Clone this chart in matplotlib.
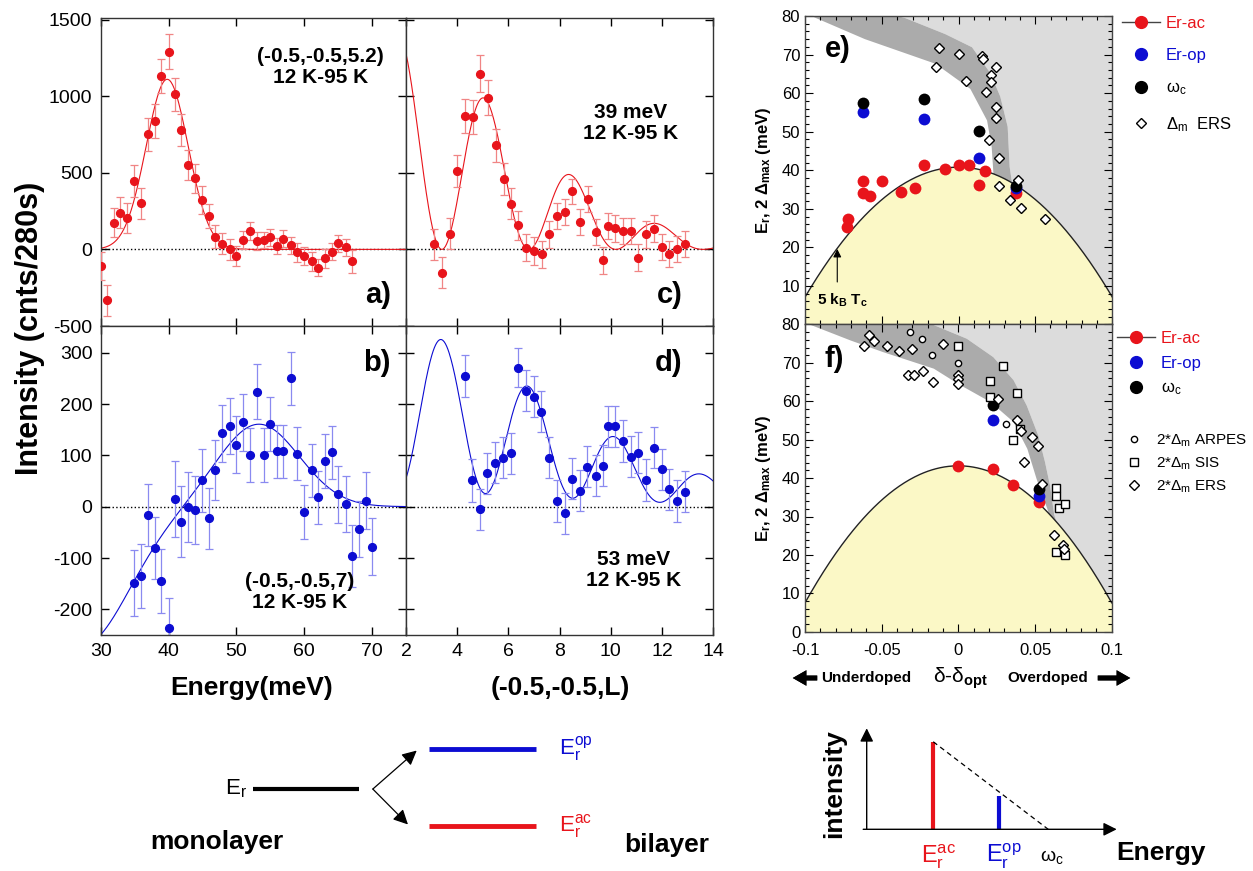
import numpy as np
import matplotlib
matplotlib.use('Agg')
import matplotlib.pyplot as plt
from matplotlib.lines import Line2D
from matplotlib.ticker import MultipleLocator, FixedLocator

plt.rcParams['font.family'] = ['Liberation Sans', 'DejaVu Sans']
plt.rcParams['mathtext.fontset'] = 'custom'
plt.rcParams['mathtext.rm'] = 'Liberation Sans'
plt.rcParams['mathtext.it'] = 'Liberation Sans:italic'
plt.rcParams['mathtext.bf'] = 'Liberation Sans:bold'
plt.rcParams['axes.unicode_minus'] = False

# ---- a) energy scan at (-0.5,-0.5,5.2), acoustic mode
energy_a = [30.0, 31.0, 31.9, 32.9, 33.9, 34.9, 35.9, 36.9, 38.0, 38.9, 40.0, 40.9, 41.9, 42.9,
            43.9, 45.0, 46.0, 46.9, 47.9, 49.0, 50.0, 51.0, 52.0, 53.0, 54.0, 55.0, 56.0, 56.9,
            58.0, 59.0, 60.0, 61.1, 62.0, 63.1, 64.1, 65.0, 66.1, 67.1]
inten_a = [-109, -333, 174, 239, 204, 446, 300, 750, 837, 1133, 1291, 1011, 778, 550,
           463, 324, 217, 83, 37, 0, -43, 61, 120, 54, 61, 78, 22, 70,
           28, -20, -43, -78, -120, -59, -15, 41, 13, -76]
err_a = [90, 100, 95, 100, 100, 105, 100, 105, 110, 110, 115, 110, 105, 100,
         95, 90, 80, 75, 70, 70, 65, 60, 60, 60, 55, 55, 55, 55,
         55, 60, 60, 60, 55, 60, 55, 55, 55, 75]

# ---- b) energy scan at (-0.5,-0.5,7), optical mode
energy_b = [34.9, 35.9, 36.9, 38.0, 38.9, 40.0, 40.9, 41.9, 42.9, 43.9, 45.0, 46.0, 46.9, 47.9,
            49.0, 50.0, 51.0, 52.0, 53.0, 54.0, 55.0, 56.0, 56.9, 58.0, 59.0, 60.0, 61.1, 62.0,
            63.1, 64.1, 65.0, 66.1, 67.1, 68.0, 69.1, 70.0]
inten_b = [-149, -135, -16, -81, -145, -237, 15, -29, -1, -6, 51, -23, 71, 143,
           157, 121, 164, 101, 224, 101, 161, 108, 108, 250, 103, -10, 71, 18,
           89, 106, 24, 5, -96, -44, 12, -78]
err_b = [64, 62, 60, 60, 62, 60, 74, 70, 68, 66, 62, 60, 58, 56,
         55, 55, 55, 52, 53, 52, 52, 52, 52, 51, 52, 52, 52, 52,
         52, 52, 55, 55, 60, 55, 55, 55]

# ---- c) L scan at 39 meV
L_c = [3.10, 3.39, 3.71, 4.01, 4.30, 4.62, 4.90, 5.21, 5.51, 5.81, 6.11, 6.39, 6.68, 6.99,
       7.30, 7.60, 7.90, 8.20, 8.49, 8.80, 9.10, 9.40, 9.70, 9.88, 10.18, 10.48, 10.77, 11.07,
       11.39, 11.69, 11.98, 12.28, 12.58, 12.88]
inten_c = [33, -152, 102, 511, 870, 863, 1146, 989, 678, 461, 298, 157, 11, -11,
           -33, 98, 215, 246, 380, 178, 330, 113, -72, 152, 137, 120, 120, -54,
           98, 135, 17, -33, 0, 37]
err_c = [100, 102, 100, 105, 110, 110, 122, 115, 110, 105, 100, 95, 90, 90,
         88, 88, 85, 85, 82, 85, 85, 85, 88, 87, 87, 87, 87, 88,
         87, 87, 85, 85, 85, 85]

# ---- d) L scan at 53 meV
L_d = [4.31, 4.59, 4.88, 5.18, 5.48, 5.79, 6.09, 6.39, 6.69, 6.99, 7.29, 7.60, 7.90, 8.19,
       8.49, 8.79, 9.08, 9.40, 9.70, 9.88, 10.18, 10.48, 10.77, 11.07, 11.39, 11.69, 11.98, 12.28,
       12.58, 12.88]
inten_d = [254, 51, -5, 65, 86, 95, 104, 271, 226, 214, 185, 95, 11, -13,
           54, 31, 78, 60, 80, 157, 157, 128, 97, 105, 52, 115, 73, 34,
           11, 29]
err_d = [41, 41, 40, 40, 40, 40, 40, 38, 40, 40, 40, 40, 40, 40,
         40, 40, 40, 40, 40, 40, 40, 40, 40, 40, 40, 40, 40, 40,
         40, 40]

# fit parameters
fit_a = dict(center=39.8, amp=1110, sigma=3.1)
fit_b = dict(center=53.3, amp=161, sigma=6.0, neg_center=27.0, neg_amp=273, neg_width=7.1)
fit_c = dict(amp=1469, decay=0.0155, period=3.4)
fit_d = dict(amp=363, decay=0.0095, period=3.4, floor=0.09)

# ---- e) doping dependence, present data
dop_ac_e = [-0.0726, -0.0722, -0.0622, -0.0622, -0.0578, -0.0496, -0.0376, -0.0283, -0.0226,
            -0.0087, 0.0002, 0.0067, 0.0130, 0.0170, 0.0376]
Er_ac_e = [25.2, 27.4, 37.2, 34.2, 33.3, 37.2, 34.3, 35.3, 41.4, 40.3, 41.4, 41.4, 36.3, 39.8, 34.2]
dop_op_e = [-0.0622, -0.0226, 0.0130, 0.0376]
Er_op_e = [55.2, 53.3, 43.3, 35.3]
dop_wc_e = [-0.0620, -0.0226, 0.0130, 0.0376]
wc_e = [57.4, 58.5, 50.2, 36.0]
dop_ers_e = [-0.0128, -0.0148, 0.0002, 0.0050, 0.0152, 0.0157, 0.0243, 0.0211, 0.0211, 0.0180,
             0.0243, 0.0243, 0.0196, 0.0261, 0.0265, 0.0387, 0.0333, 0.0407, 0.0559]
ers_e = [71.6, 66.9, 70.2, 63.2, 69.5, 68.8, 66.9, 64.7, 62.9, 60.3,
         56.5, 53.6, 47.9, 43.2, 35.9, 37.4, 32.3, 30.2, 27.4]
Emax_e = 40.8

# ---- f) doping dependence, literature
dop_ac_f = [0.0, 0.0228, 0.0359, 0.0528]
Er_ac_f = [43.1, 42.3, 38.1, 33.9]
dop_op_f = [0.0228, 0.0528]
Er_op_f = [55.0, 35.3]
dop_wc_f = [0.0228, 0.0528]
wc_f = [59.1, 37.2]
dop_arpes = [-0.0315, -0.0239, -0.0170, 0.0, 0.0309]
arpes = [78.0, 76.1, 72.1, 70.0, 54.1]
dop_sis = [0.0, 0.0294, 0.0207, 0.0385, 0.0207, 0.0355, 0.0402, 0.0635, 0.0635, 0.0659, 0.0698,
           0.0635, 0.0698]
sis = [74.5, 69.3, 65.2, 62.1, 61.1, 49.8, 52.8, 37.4, 35.3, 32.2, 33.2, 20.7, 19.9]
dop_ers_f = [-0.0618, -0.0580, -0.0548, -0.0467, -0.0389, -0.0300, -0.0102, -0.0330, -0.0287,
             -0.0232, -0.0163, 0.0, 0.0, 0.0, 0.0261, 0.0385, 0.0407, 0.0479, 0.0522, 0.0429,
             0.0546, 0.0626, 0.0685, 0.0690]
ers_f = [74.3, 77.3, 75.6, 74.4, 73.0, 73.7, 75.0, 66.9, 66.9,
         68.0, 65.0, 66.9, 65.7, 64.6, 60.6, 55.0, 52.2, 50.7, 48.3, 44.2,
         38.5, 25.2, 22.5, 21.6]
Emax_f = 43.2

# grey gap bands (outline)
band_e_lo_x = [-0.096, -0.061, -0.015, 0.0076, 0.0185, 0.0215, 0.0225, 0.0230]
band_e_lo_y = [80, 74.0, 67.6, 61.1, 52.9, 46.0, 40.0, 36.0]
band_e_hi_x = [0.0350, 0.0332, 0.0319, 0.0271, 0.0206, 0.0087, -0.0087, -0.035, -0.040]
band_e_hi_y = [36.0, 40.9, 51.3, 59.1, 65.2, 71.9, 75.3, 79.5, 80]
band_f_lo_x = [-0.097, -0.070, -0.049, -0.016, 0.0, 0.021, 0.036, 0.045, 0.051, 0.058, 0.063]
band_f_lo_y = [80, 75.8, 72.8, 68.5, 64.5, 59.8, 54.6, 47.6, 39.8, 32.0, 26.0]
band_f_hi_x = [0.066, 0.0625, 0.0598, 0.0565, 0.0522, 0.0446, 0.036, 0.0228, 0.0055, -0.0163, -0.020]
band_f_hi_y = [26.0, 30.5, 38.0, 44.2, 51.0, 58.9, 65.5, 71.5, 76.3, 79.9, 80]

# schematics
mono_level, op_level, ac_level = 0.48, 1.0, 0.0
sketch_E = [0.266, 0.53]        # Er_ac, Er_op on the sketch energy axis
sketch_I = [0.867, 0.33]
sketch_wc = 0.726

red = '#e8141b'
red_err = '#f08585'
blue = '#0c0cd2'
blue_err = '#8a8af0'
band_grey = '#ababab'
light_grey = '#dcdcdc'
yellow = '#fbf8c6'

W, H = 1253, 871
fig = plt.figure(figsize=(W / 100, H / 100), dpi=100)


def px_axes(l, t, r, b):
    return fig.add_axes([l / W, 1 - b / H, (r - l) / W, (b - t) / H])


def ftext(x, y, s, **kw):
    return fig.text(x / W, 1 - y / H, s, **kw)


def style_scan(ax, xlim, ylim, xstep, ystep, xlab, ylab):
    ax.set_xlim(*xlim)
    ax.set_ylim(*ylim)
    ax.xaxis.set_major_locator(MultipleLocator(xstep))
    ax.yaxis.set_major_locator(MultipleLocator(ystep))
    ax.tick_params(direction='in', top=True, right=True, length=6, width=1,
                   labelsize=14, labelbottom=xlab, labelleft=ylab, pad=6)
    for s in ax.spines.values():
        s.set_linewidth(1)
        s.set_color('#333333')
    ax.axhline(0, color='k', ls=':', lw=1, zorder=1)


def gauss(x, c, a, s):
    return a * np.exp(-(x - c) ** 2 / (2 * s ** 2))


ekw = dict(fmt='o', ms=5.6, elinewidth=0.9, capsize=2.6, capthick=0.9, zorder=3)

# a)
ax_a = px_axes(100.7, 18, 406, 326)
ax_a.errorbar(energy_a, inten_a, yerr=err_a, color=red, ecolor=red_err, **ekw)
e_fine = np.linspace(30, 75, 400)
ax_a.plot(e_fine, gauss(e_fine, fit_a['center'], fit_a['amp'], fit_a['sigma']), color=red, lw=0.8)
style_scan(ax_a, (30, 75), (-500, 1510), 10, 500, False, True)
ax_a.text(0.72, 0.84, '(-0.5,-0.5,5.2)\n12 K-95 K', transform=ax_a.transAxes, ha='center',
          va='center', fontsize=15, fontweight='bold', linespacing=1.15)
ax_a.text(0.95, 0.1, 'a)', transform=ax_a.transAxes, ha='right', va='center',
          fontsize=21, fontweight='bold')

# b)
ax_b = px_axes(100.7, 326, 406, 635)
ax_b.errorbar(energy_b, inten_b, yerr=err_b, color=blue, ecolor=blue_err, **ekw)
fb = fit_b
curve_b = gauss(e_fine, fb['center'], fb['amp'], fb['sigma']) - \
    gauss(e_fine, fb['neg_center'], fb['neg_amp'], fb['neg_width'])
ax_b.plot(e_fine, curve_b, color=blue, lw=0.8)
style_scan(ax_b, (30, 75), (-250, 352), 10, 100, True, True)
ax_b.text(0.65, 0.14, '(-0.5,-0.5,7)\n12 K-95 K', transform=ax_b.transAxes, ha='center',
          va='center', fontsize=15, fontweight='bold', linespacing=1.15)
ax_b.text(0.95, 0.88, 'b)', transform=ax_b.transAxes, ha='right', va='center',
          fontsize=21, fontweight='bold')

# c)
ax_c = px_axes(406, 18, 713.3, 326)
ax_c.errorbar(L_c, inten_c, yerr=err_c, color=red, ecolor=red_err, **ekw)
l_fine = np.linspace(2, 14, 500)
fc = fit_c
curve_c = fc['amp'] * np.exp(-fc['decay'] * l_fine ** 2) * np.sin(np.pi * l_fine / fc['period']) ** 2
ax_c.plot(l_fine, curve_c, color=red, lw=0.8)
style_scan(ax_c, (2, 14), (-500, 1510), 2, 500, False, False)
ax_c.text(0.73, 0.66, '39 meV\n12 K-95 K', transform=ax_c.transAxes, ha='center',
          va='center', fontsize=15, fontweight='bold', linespacing=1.15)
ax_c.text(0.9, 0.1, 'c)', transform=ax_c.transAxes, ha='right', va='center',
          fontsize=21, fontweight='bold')

# d)
ax_d = px_axes(406, 326, 713.3, 635)
ax_d.errorbar(L_d, inten_d, yerr=err_d, color=blue, ecolor=blue_err, **ekw)
fd = fit_d
curve_d = fd['amp'] * np.exp(-fd['decay'] * l_fine ** 2) * \
    ((1 - fd['floor']) * np.cos(np.pi * l_fine / fd['period']) ** 2 + fd['floor'])
ax_d.plot(l_fine, curve_d, color=blue, lw=0.8)
style_scan(ax_d, (2, 14), (-250, 352), 2, 100, True, False)
ax_d.text(0.74, 0.21, '53 meV\n12 K-95 K', transform=ax_d.transAxes, ha='center',
          va='center', fontsize=15, fontweight='bold', linespacing=1.15)
ax_d.text(0.9, 0.88, 'd)', transform=ax_d.transAxes, ha='right', va='center',
          fontsize=21, fontweight='bold')

ftext(30, 328, 'Intensity (cnts/280s)', rotation=90, ha='center', va='center',
      fontsize=22, fontweight='bold')
ftext(252, 688, 'Energy(meV)', ha='center', va='center', fontsize=19, fontweight='bold')
ftext(560, 688, '(-0.5,-0.5,L)', ha='center', va='center', fontsize=19, fontweight='bold')


# e) and f)
def dome(x, emax):
    return emax * (1 - 82.6 * np.asarray(x) ** 2)


def draw_phase(ax, emax, lo_x, lo_y, hi_x, hi_y):
    ax.set_xlim(-0.1, 0.1)
    ax.set_ylim(0, 80)
    # light grey region right of the band
    gx = list(hi_x) + [0.1, 0.1, hi_x[0]]
    gy = list(hi_y) + [80, 0, 0]
    ax.fill(gx, gy, color=light_grey, lw=0, zorder=0.5)
    # dark grey band
    bx = list(lo_x) + list(hi_x)
    by = list(lo_y) + list(hi_y)
    ax.fill(bx, by, color=band_grey, lw=0, zorder=0.6)
    d = np.linspace(-0.1, 0.1, 300)
    ax.fill_between(d, 0, dome(d, emax), color=yellow, lw=0, zorder=0.8)
    ax.plot(d, dome(d, emax), color='#222222', lw=1, zorder=1)
    ax.xaxis.set_major_locator(MultipleLocator(0.05))
    ax.xaxis.set_minor_locator(MultipleLocator(0.01))
    ax.yaxis.set_major_locator(MultipleLocator(10))
    ax.yaxis.set_minor_locator(MultipleLocator(2))
    ax.tick_params(which='both', direction='in', top=True, right=True, width=0.8, labelsize=12)
    ax.tick_params(which='major', length=6)
    ax.tick_params(which='minor', length=3)
    ax.tick_params(axis='x', pad=8)
    for s in ax.spines.values():
        s.set_linewidth(1)
        s.set_color('#444444')
    ax.set_ylabel(r'$\mathbf{E_r}$, 2 $\mathbf{\Delta_{max}}$ (meV)', fontsize=12,
                  fontweight='bold')
    ax.yaxis.set_label_coords(-0.105, 0.5)


dot = dict(ls='none', marker='o', ms=8.5, mew=0, zorder=4)
open_kw = dict(ls='none', mfc='white', mec='black', mew=1, zorder=5)

ax_e = px_axes(805, 16, 1112.3, 324.5)
draw_phase(ax_e, Emax_e, band_e_lo_x, band_e_lo_y, band_e_hi_x, band_e_hi_y)
ax_e.plot(dop_ac_e, Er_ac_e, color=red, **dot)
ax_e.plot(dop_op_e, Er_op_e, color=blue, **dot)
ax_e.plot(dop_wc_e, wc_e, color='black', **dot)
ax_e.plot(dop_ers_e, ers_e, marker='D', ms=5.5, **open_kw)
ax_e.set_yticks(range(10, 81, 10))
ax_e.tick_params(labelbottom=False)
ax_e.text(-0.087, 71.5, 'e)', fontsize=21, fontweight='bold', va='center')
ax_e.annotate('', xy=(-0.079, 20.3), xytext=(-0.079, 10.3),
              arrowprops=dict(arrowstyle='-|>', color='black', lw=0.8, mutation_scale=12))
ax_e.text(-0.092, 6.3, r'$\mathbf{5\ k_B\ T_c}$', fontsize=11, va='center')

ax_e.legend(handles=[
    Line2D([], [], color='#444444', lw=1, marker='o', ms=8.5, mfc=red, mec=red),
    Line2D([], [], color=blue, marker='o', ms=8.5, ls='none'),
    Line2D([], [], color='black', marker='o', ms=8.5, ls='none'),
    Line2D([], [], marker='D', ms=5.5, ls='none', mfc='white', mec='black')],
    labels=['Er-ac', 'Er-op', r'$\mathregular{\omega_c}$', r'$\mathregular{\Delta_m}$  ERS'],
    labelcolor=[red, blue, 'black', 'black'], loc='upper left',
    bbox_to_anchor=(1115 / W, 1 - 9 / H), bbox_transform=fig.transFigure,
    frameon=False, fontsize=12, handlelength=2.3, handletextpad=0.35, labelspacing=1.05,
    borderaxespad=0)

ax_f = px_axes(805, 324.5, 1111.7, 631.7)
draw_phase(ax_f, Emax_f, band_f_lo_x, band_f_lo_y, band_f_hi_x, band_f_hi_y)
ax_f.plot(dop_ac_f, Er_ac_f, color=red, **dot)
ax_f.plot(dop_op_f, Er_op_f, color=blue, **dot)
ax_f.plot(dop_wc_f, wc_f, color='black', **dot)
ax_f.plot(dop_arpes, arpes, marker='o', ms=4.5, **open_kw)
ax_f.plot(dop_sis, sis, marker='s', ms=5.2, **open_kw)
ax_f.plot(dop_ers_f, ers_f, marker='D', ms=5.5, **open_kw)
dop_ticks = [-0.1, -0.05, 0, 0.05, 0.1]
dop_labels = ['-0.1', '-0.05', '0', '0.05', '0.1']
ax_f.xaxis.set_major_locator(FixedLocator(dop_ticks))
ax_f.set_xticklabels(dop_labels)
ax_f.text(-0.087, 71, 'f)', fontsize=21, fontweight='bold', va='center')

leg1 = ax_f.legend(handles=[
    Line2D([], [], color='#444444', lw=1, marker='o', ms=8.5, mfc=red, mec=red),
    Line2D([], [], color=blue, marker='o', ms=8.5, ls='none'),
    Line2D([], [], color='black', marker='o', ms=8.5, ls='none')],
    labels=['Er-ac', 'Er-op', r'$\mathregular{\omega_c}$'],
    labelcolor=[red, blue, 'black'], loc='upper left',
    bbox_to_anchor=(1110 / W, 1 - 324 / H), bbox_transform=fig.transFigure,
    frameon=False, fontsize=12, handlelength=2.3, handletextpad=0.35, labelspacing=0.6,
    borderaxespad=0)
ax_f.add_artist(leg1)
ax_f.legend(handles=[
    Line2D([], [], marker='o', ms=4.5, ls='none', mfc='white', mec='black'),
    Line2D([], [], marker='s', ms=5.2, ls='none', mfc='white', mec='black'),
    Line2D([], [], marker='D', ms=5.5, ls='none', mfc='white', mec='black')],
    labels=[r'2*$\mathregular{\Delta_m}$ ARPES', r'2*$\mathregular{\Delta_m}$ SIS',
            r'2*$\mathregular{\Delta_m}$ ERS'],
    loc='upper left', bbox_to_anchor=(1116 / W, 1 - 426 / H), bbox_transform=fig.transFigure,
    frameon=False, fontsize=11, handlelength=1.6, handletextpad=0.6, labelspacing=0.45,
    borderaxespad=0)

# doping caption under f)
ftext(866, 678, 'Underdoped', ha='center', va='center', fontsize=11, fontweight='bold')
ftext(1048, 678, 'Overdoped', ha='center', va='center', fontsize=11, fontweight='bold')
ftext(960, 678, r'$\mathregular{\delta}$-$\mathregular{\delta_{\mathbf{opt}}}$', ha='center',
      va='center', fontsize=15)
arr = dict(arrowstyle='simple,head_length=0.7,head_width=0.8,tail_width=0.25', color='black',
           mutation_scale=14, lw=0)
fig.add_artist(plt.annotate('', xy=(790 / W, 1 - 678 / H), xytext=(820 / W, 1 - 678 / H),
                            xycoords='figure fraction', textcoords='figure fraction',
                            arrowprops=arr))
fig.add_artist(plt.annotate('', xy=(1133 / W, 1 - 678 / H), xytext=(1095 / W, 1 - 678 / H),
                            xycoords='figure fraction', textcoords='figure fraction',
                            arrowprops=arr))

# ---- schematic: level splitting
ax_s = px_axes(252.7, 749, 536, 826)
ax_s.set_xlim(0, 1)
ax_s.set_ylim(0, 1)
ax_s.axis('off')
ax_s.plot([0, 0.376], [mono_level, mono_level], color='black', lw=3, solid_capstyle='butt')
ax_s.plot([0.623, 1.0], [op_level, op_level], color=blue, lw=3.5, solid_capstyle='butt', clip_on=False)
ax_s.plot([0.623, 1.0], [ac_level, ac_level], color=red, lw=3.5, solid_capstyle='butt', clip_on=False)
for tip in [(0.579, op_level - 0.02), (0.548, ac_level + 0.02)]:
    ax_s.annotate('', xy=tip, xytext=(0.424, mono_level),
                  arrowprops=dict(arrowstyle='-|>', color='black', lw=0.9, mutation_scale=22,
                                  shrinkA=0, shrinkB=0))
ax_s.text(-0.02, mono_level, r'$\mathregular{E_r}$', ha='right', va='center', fontsize=16)
ax_s.text(1.08, op_level, r'$\mathregular{E_r^{op}}$', ha='left', va='center', fontsize=16,
          color=blue)
ax_s.text(1.08, ac_level, r'$\mathregular{E_r^{ac}}$', ha='left', va='center', fontsize=16,
          color=red)
ax_s.text(-0.125, -0.21, 'monolayer', ha='center', va='center', fontsize=19, fontweight='bold')
ax_s.text(1.46, -0.25, 'bilayer', ha='center', va='center', fontsize=19, fontweight='bold')

# ---- schematic: intensity vs energy
ax_k = px_axes(866.7, 728.3, 1116.7, 829.3)
ax_k.set_xlim(0, 1)
ax_k.set_ylim(0, 1)
ax_k.axis('off')
ax_k.annotate('', xy=(1.0, 0), xytext=(-0.014, 0),
              arrowprops=dict(arrowstyle='-|>', color='black', lw=1, mutation_scale=20,
                              shrinkA=0, shrinkB=0))
ax_k.annotate('', xy=(0, 1.0), xytext=(0, 0),
              arrowprops=dict(arrowstyle='-|>', color='black', lw=1, mutation_scale=20,
                              shrinkA=0, shrinkB=0))
ax_k.vlines(sketch_E, 0, sketch_I, colors=[red, blue], lw=3)
ax_k.plot([sketch_E[0], sketch_wc], [sketch_I[0], 0], color='black', ls=(0, (4, 3)), lw=0.9)
ax_k.text(sketch_E[0] + 0.02, -0.27, r'$\mathregular{E_r^{ac}}$', ha='center', va='center',
          fontsize=17, color=red)
ax_k.text(sketch_E[1] + 0.02, -0.27, r'$\mathregular{E_r^{op}}$', ha='center', va='center',
          fontsize=17, color=blue)
ax_k.text(sketch_wc + 0.015, -0.27, r'$\mathregular{\omega_c}$', ha='center', va='center',
          fontsize=14)
ax_k.text(1.0, -0.23, 'Energy', ha='left', va='center', fontsize=19, fontweight='bold')
ax_k.text(-0.13, 0.45, 'intensity', rotation=90, ha='center', va='center', fontsize=19,
          fontweight='bold')

fig.savefig('out.png', dpi=100)
